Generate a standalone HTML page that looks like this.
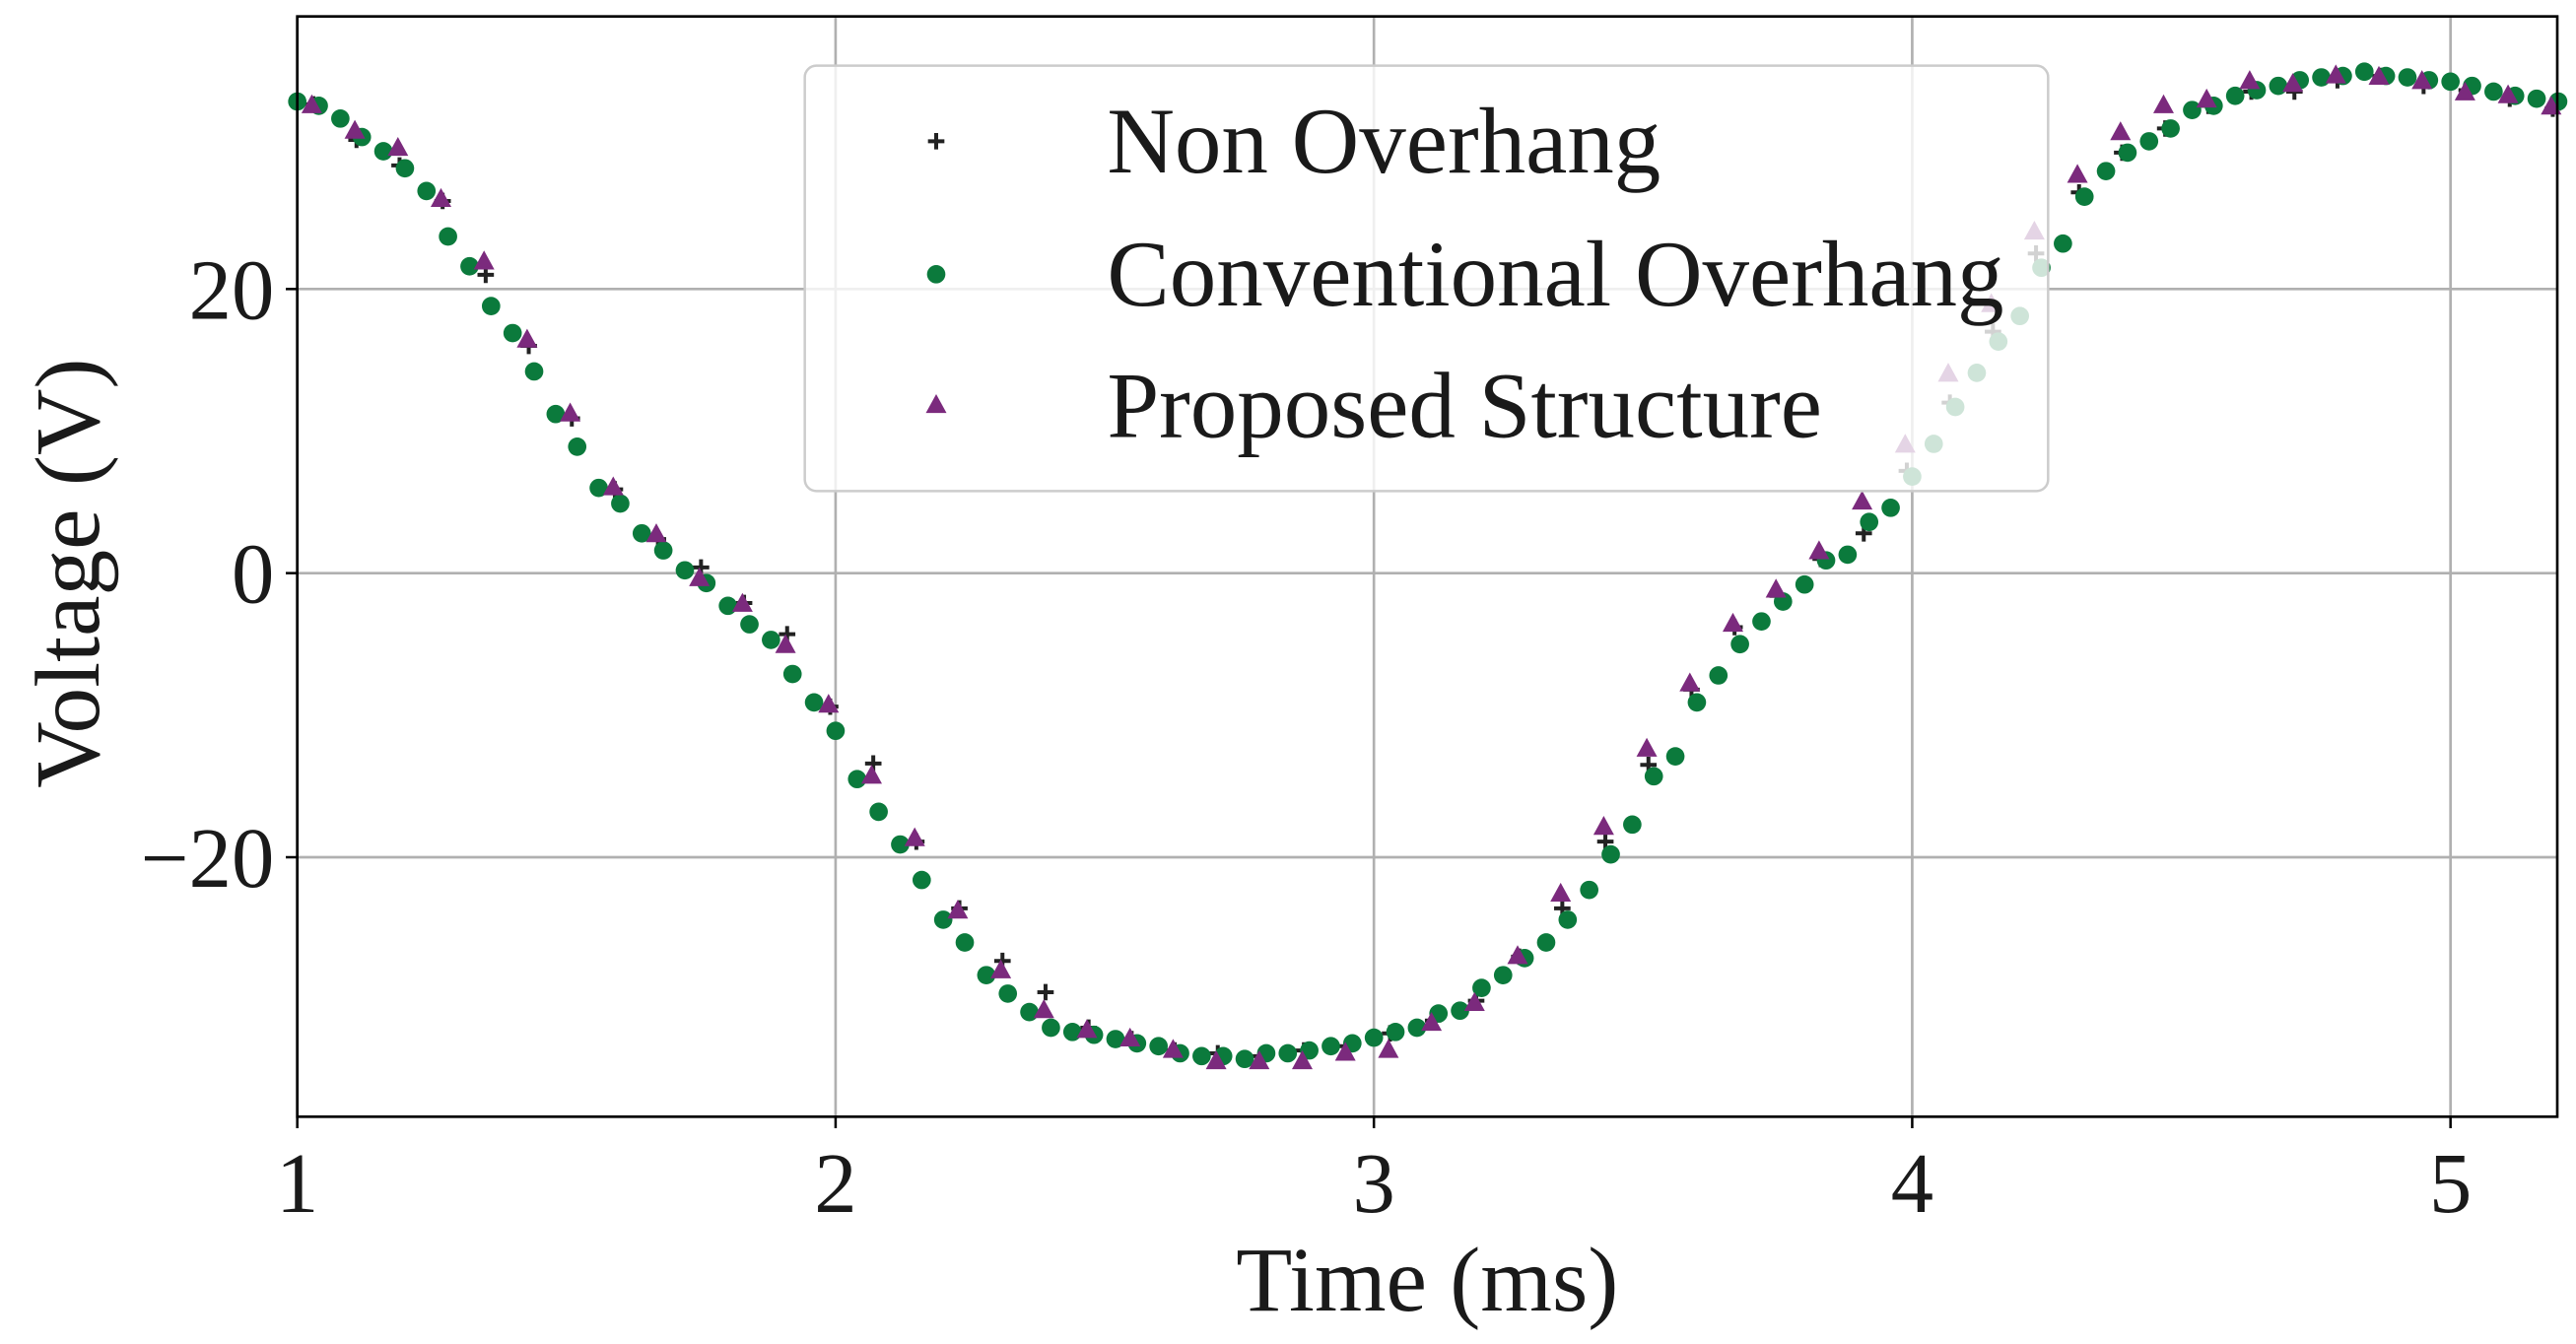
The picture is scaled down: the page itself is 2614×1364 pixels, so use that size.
<!DOCTYPE html>
<html><head><meta charset="utf-8"><style>
html,body{margin:0;padding:0;background:#fff;}
svg{display:block;font-family:"Liberation Serif","DejaVu Serif",serif;}
</style></head><body>
<svg id="chart" width="2614" height="1364" viewBox="0 0 1568.4 818.4" xmlns="http://www.w3.org/2000/svg">
<g id="grid"></g>
<g id="marks"></g>
<g id="axes"></g>
<text x="869" y="798" font-size="56" text-anchor="middle" fill="#1a1a1a">Time (ms)</text>
<text transform="translate(60,349) rotate(-90)" font-size="56" text-anchor="middle" fill="#1a1a1a">Voltage (V)</text>
<g>
<rect x="490" y="40" width="757" height="259" rx="7" fill="#ffffff" fill-opacity="0.8" stroke="#cccccc" stroke-width="1.5"/>
<g id="legend-items"></g>
</g>
</svg>
<script>
const xTicks=[1,2,3,4,5];
const xTickLabels=["1","2","3","4","5"];
const yTicks=[-20,0,20];
const yTickLabels=["\u221220","0","20"];
const seriesNames=["Non Overhang","Conventional Overhang","Proposed Structure"];
const tGreen=[1.00,1.04,1.08,1.12,1.16,1.20,1.24,1.28,1.32,1.36,1.40,1.44,1.48,1.52,1.56,1.60,1.64,1.68,1.72,1.76,1.80,1.84,1.88,1.92,1.96,2.00,2.04,2.08,2.12,2.16,2.20,2.24,2.28,2.32,2.36,2.40,2.44,2.48,2.52,2.56,2.60,2.64,2.68,2.72,2.76,2.80,2.84,2.88,2.92,2.96,3.00,3.04,3.08,3.12,3.16,3.20,3.24,3.28,3.32,3.36,3.40,3.44,3.48,3.52,3.56,3.60,3.64,3.68,3.72,3.76,3.80,3.84,3.88,3.92,3.96,4.00,4.04,4.08,4.12,4.16,4.20,4.24,4.28,4.32,4.36,4.40,4.44,4.48,4.52,4.56,4.60,4.64,4.68,4.72,4.76,4.80,4.84,4.88,4.92,4.96,5.00,5.04,5.08,5.12,5.16,5.20];
const vGreen=[33.2,32.9,32.0,30.7,29.7,28.5,26.9,23.7,21.6,18.8,16.9,14.2,11.2,8.9,6.0,4.9,2.8,1.6,0.2,-0.7,-2.3,-3.6,-4.7,-7.1,-9.1,-11.1,-14.5,-16.8,-19.1,-21.6,-24.4,-26.0,-28.3,-29.6,-30.9,-32.0,-32.3,-32.5,-32.8,-33.1,-33.3,-33.8,-34.0,-34.0,-34.2,-33.8,-33.8,-33.6,-33.3,-33.1,-32.7,-32.3,-32.0,-31.0,-30.8,-29.2,-28.3,-27.1,-26.0,-24.4,-22.3,-19.8,-17.7,-14.3,-12.9,-9.1,-7.2,-5.0,-3.4,-2.0,-0.8,0.9,1.3,3.6,4.6,6.8,9.1,11.7,14.1,16.3,18.1,21.5,23.2,26.5,28.3,29.6,30.4,31.3,32.6,32.9,33.6,34.0,34.3,34.7,34.9,35.0,35.3,35.0,34.9,34.7,34.6,34.3,33.9,33.6,33.4,33.2];
const tPts=[1.03,1.11,1.19,1.27,1.35,1.43,1.51,1.59,1.67,1.75,1.83,1.91,1.99,2.07,2.15,2.23,2.31,2.39,2.47,2.55,2.63,2.71,2.79,2.87,2.95,3.03,3.11,3.19,3.27,3.35,3.43,3.51,3.59,3.67,3.75,3.83,3.91,3.99,4.07,4.15,4.23,4.31,4.39,4.47,4.55,4.63,4.71,4.79,4.87,4.95,5.03,5.11,5.19];
const vBlack=[33.0,30.5,28.7,26.2,21.0,16.0,10.9,5.9,2.4,0.4,-2.1,-4.3,-9.4,-13.4,-18.9,-23.6,-27.3,-29.5,-32.0,-32.8,-33.6,-33.8,-34.0,-33.6,-33.3,-32.4,-31.5,-30.1,-27.0,-23.6,-18.9,-13.5,-8.2,-3.8,-1.6,1.0,2.8,7.2,12.0,17.0,22.5,26.8,29.6,31.3,32.9,33.9,33.9,34.7,35.0,34.3,34.0,33.4,32.7];
const vPurple=[32.9,31.1,29.9,26.3,21.9,16.4,11.2,6.0,2.7,-0.4,-2.2,-5.1,-9.3,-14.3,-18.7,-23.8,-28.0,-30.8,-32.2,-32.8,-33.6,-34.4,-34.4,-34.4,-33.8,-33.6,-31.7,-30.3,-27.0,-22.6,-17.9,-12.4,-7.8,-3.6,-1.2,1.5,5.0,9.0,14.0,18.9,24.0,28.0,31.0,32.9,33.3,34.6,34.4,35.0,34.9,34.6,33.8,33.6,32.8];

const NS="http://www.w3.org/2000/svg";
const L=181,R=1557,T=10,B=680;
const xMin=1,xMax=1+(R-L)/327.75;
const yMin=-(B-349)/173*20,yMax=(349-T)/173*20;
function sx(t){return L+(t-xMin)/(xMax-xMin)*(R-L);}
function sy(v){return B-(v-yMin)/(yMax-yMin)*(B-T);}
function mk(tag,attrs,parent){const e=document.createElementNS(NS,tag);for(const k in attrs)e.setAttribute(k,attrs[k]);parent.appendChild(e);return e;}
const grid=document.getElementById('grid'),axes=document.getElementById('axes'),marks=document.getElementById('marks');
xTicks.forEach((t,i)=>{
  const g=mk('line',{x1:sx(t),x2:sx(t),y1:T,y2:B,stroke:'#b0b0b0','stroke-width':1.6},grid);
  
  
  const tk=mk('line',{x1:sx(t),x2:sx(t),y1:B,y2:B+7,stroke:'#000','stroke-width':1.5},axes);
  
  
  const tx=mk('text',{x:sx(t),y:738,'font-size':52,'text-anchor':'middle',fill:'#1a1a1a'},axes);
  tx.textContent=xTickLabels[i];
  
  
});
yTicks.forEach((v,i)=>{
  const g=mk('line',{x1:L,x2:R,y1:sy(v),y2:sy(v),stroke:'#b0b0b0','stroke-width':1.6},grid);
  
  
  const tk=mk('line',{x1:L-7,x2:L,y1:sy(v),y2:sy(v),stroke:'#000','stroke-width':1.5},axes);
  
  
  const tx=mk('text',{x:L-14,y:sy(v)+18,'font-size':52,'text-anchor':'end',fill:'#1a1a1a'},axes);
  tx.textContent=yTickLabels[i];
  
  
});
const frame=mk('rect',{x:L,y:T,width:R-L,height:B-T,fill:'none',stroke:'#000','stroke-width':1.6},axes);


const GREEN='#0b7a3c',PURPLE='#7b2a7d',BLACK='#222';
function plus(x,y,p){return mk('path',{d:`M${x-5} ${y}H${x+5}M${x} ${y-5}V${y+5}`,stroke:BLACK,'stroke-width':2.4,fill:'none'},p);}
function circ(x,y,p){return mk('circle',{cx:x,cy:y,r:5.6,fill:GREEN},p);}
function tri(x,y,p){return mk('path',{d:`M${x} ${y-7}L${x+6.3} ${y+4.5}L${x-6.3} ${y+4.5}Z`,fill:PURPLE},p);}
tPts.forEach((t,i)=>{const e=plus(sx(t),sy(vBlack[i]),marks);
  
  });
tGreen.forEach((t,i)=>{const e=circ(sx(t),sy(vGreen[i]),marks);
  
  });
tPts.forEach((t,i)=>{const e=tri(sx(t)-1,sy(vPurple[i]),marks);
  
  });
const li=document.getElementById('legend-items');
const rows=[86,167,247];
const makers=[plus,circ,tri];
seriesNames.forEach((n,i)=>{
  const m=makers[i](570,rows[i],li);
  
  
  const tx=mk('text',{x:674,y:rows[i]+19,'font-size':57,fill:'#1a1a1a'},li);
  tx.textContent=n;
  
  
});
</script>
</body></html>
